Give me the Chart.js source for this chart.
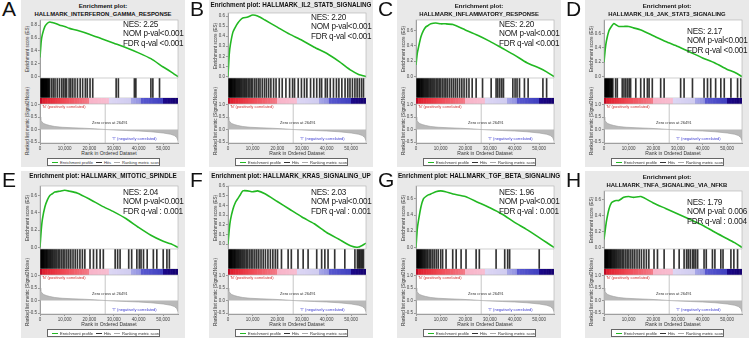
<!DOCTYPE html>
<html>
<head>
<meta charset="utf-8">
<script src="https://cdn.jsdelivr.net/npm/chart.js@4.4.1/dist/chart.umd.min.js"></script>
<style>
  body { margin: 0; background: #fff; font-family: "Liberation Sans", Arial, sans-serif; }
  #fig { position: relative; width: 752px; height: 342px; overflow: hidden; }
  .panel { position: absolute; width: 188px; height: 171px; }
  .box { position: absolute; left: 21px; top: 0; width: 164px; height: 167px; background: #e9e9e9; }
  .letter { position: absolute; left: 2px; top: -3px; font-size: 21px; color: #111; }
  .ttl { position: absolute; left: 21px; width: 164px; text-align: center; font-weight: bold; font-size: 6.1px; color: #111; white-space: nowrap; }
  .stats { position: absolute; left: 123px; font-size: 8.2px; letter-spacing: -0.25px; line-height: 9.4px; color: #222; white-space: nowrap; }
  .ytl { position: absolute; left: 27px; width: 0; height: 0; }
  .ytl span { position: absolute; transform: translate(-50%, -50%) rotate(-90deg); font-size: 4.6px; color: #333; white-space: nowrap; }
  .small { position: absolute; font-size: 4px; white-space: nowrap; }
  .xt { position: absolute; left: 40px; width: 138px; text-align: center; font-size: 5px; color: #333; }
  .leg { position: absolute; left: 47px; width: 113px; height: 7.5px; top: 158px; background: #fff; border: 0.6px solid #666; overflow: hidden;
         font-size: 4.1px; line-height: 7.5px; color: #333; white-space: nowrap; padding-left: 1px; box-sizing: border-box; }
  .leg i { display: inline-block; width: 6px; vertical-align: middle; border-top: 1px solid; margin: 0 2px 0 3px; }
  canvas { position: absolute; }
</style>
</head>
<body>
<div id="fig"></div>
<script>
// ---- data ----
const letters = ['A', 'B', 'C', 'D', 'E', 'F', 'G', 'H'];
const geneSets = [
  'HALLMARK_INTERFERON_GAMMA_RESPONSE', 'HALLMARK_IL2_STAT5_SIGNALING',
  'HALLMARK_INFLAMMATORY_RESPONSE', 'HALLMARK_IL6_JAK_STAT3_SIGNALING',
  'HALLMARK_MITOTIC_SPINDLE', 'HALLMARK_KRAS_SIGNALING_UP',
  'HALLMARK_TGF_BETA_SIGNALING', 'HALLMARK_TNFA_SIGNALING_VIA_NFKB'
];
const oneLineTitle = [false, true, false, false, true, true, true, false];
const nesText = ['NES: 2.25', 'NES: 2.20', 'NES: 2.20', 'NES: 2.17', 'NES: 2.04', 'NES: 2.03', 'NES: 1.96', 'NES: 1.79'];
const nomText = ['NOM p-val<0.001', 'NOM p-val<0.001', 'NOM p-val<0.001', 'NOM p-val<0.001',
                 'NOM p-val<0.001', 'NOM p-val<0.001', 'NOM p-val<0.001', 'NOM p-val: 0.006'];
const fdrText = ['FDR q-val <0.001', 'FDR q-val <0.001', 'FDR q-val <0.001', 'FDR q-val <0.001',
                 'FDR q-val : 0.001', 'FDR q-val : 0.001', 'FDR q-val : 0.001', 'FDR q-val : 0.004'];

const datasetSize = 56000;
const zeroCross = 26491;
const rankTicks = [0, 10000, 20000, 30000, 40000, 50000];
const metricTicks = [1.0, 0.5, 0.0, -0.5];

// running enrichment score, sampled at these ranks
const esRanks = [0, 500, 1000, 2000, 3000, 4000, 5000, 6000, 8000, 10000, 12000, 15000, 20000, 25000, 30000, 35000, 40000, 45000, 50000, 53000, 56000];
const esA = [0.30, 0.55, 0.66, 0.78, 0.83, 0.85, 0.84, 0.83, 0.80, 0.78, 0.75, 0.72, 0.66, 0.59, 0.52, 0.45, 0.37, 0.28, 0.15, 0.08, 0.0];
const esB = [0.00, 0.22, 0.32, 0.44, 0.49, 0.53, 0.56, 0.58, 0.59, 0.61, 0.60, 0.56, 0.49, 0.42, 0.36, 0.29, 0.23, 0.15, 0.06, 0.02, 0.0];
const esC = [0.15, 0.30, 0.38, 0.52, 0.60, 0.65, 0.67, 0.69, 0.70, 0.69, 0.69, 0.68, 0.61, 0.54, 0.46, 0.37, 0.28, 0.18, 0.11, 0.06, 0.0];
const esD = [0.20, 0.38, 0.50, 0.64, 0.70, 0.74, 0.72, 0.70, 0.70, 0.70, 0.68, 0.65, 0.57, 0.49, 0.42, 0.34, 0.26, 0.19, 0.10, 0.06, 0.0];
const esE = [0.00, 0.20, 0.33, 0.47, 0.55, 0.60, 0.62, 0.64, 0.65, 0.66, 0.65, 0.63, 0.56, 0.48, 0.41, 0.33, 0.23, 0.14, 0.07, 0.04, 0.0];
const esF = [0.00, 0.15, 0.25, 0.36, 0.43, 0.47, 0.51, 0.55, 0.55, 0.54, 0.55, 0.52, 0.44, 0.36, 0.28, 0.21, 0.12, 0.05, -0.02, -0.03, 0.01];
const esG = [0.00, 0.22, 0.33, 0.50, 0.60, 0.63, 0.65, 0.66, 0.69, 0.70, 0.69, 0.66, 0.63, 0.56, 0.49, 0.41, 0.31, 0.22, 0.12, 0.06, 0.0];
const esH = [0.10, 0.22, 0.33, 0.48, 0.56, 0.58, 0.59, 0.59, 0.63, 0.64, 0.63, 0.64, 0.56, 0.49, 0.42, 0.35, 0.28, 0.19, 0.11, 0.06, 0.0];
const esMax = [0.88, 0.63, 0.74, 0.79, 0.71, 0.60, 0.76, 0.71];
const esMin = [-0.02, -0.015, -0.02, -0.02, -0.02, -0.05, -0.02, -0.02];

// positions of the gene set members in the ranked list
const hitsA = [0, 100, 200, 300, 400, 500, 600, 700, 800, 900, 1000, 1150, 1300, 1450, 1600, 1800, 2000, 2200, 2400, 2600, 2800, 3000, 3300, 3600, 3900,
  4700, 5400, 6100, 7000, 7900, 8800, 9500, 10200, 10800, 11800, 12500, 13300, 14200, 15200, 16300, 17300, 18400, 19200, 20300, 21400,
  30900, 31800, 38300, 38900, 45000, 45800, 48500];
const hitsB = [0, 150, 300, 450, 600, 800, 1000, 1200, 1400, 1600, 1900, 2200, 2500, 2800, 3100, 3500, 3900, 4300, 4700, 5100, 5600, 6100, 6600,
  7100, 7600, 8200, 8800, 9400, 10000, 10800, 11500, 12300, 13000, 13900, 14800, 15600, 16500, 17400, 18500, 19500, 20800, 22000, 23500,
  25000, 26200, 27000, 28500, 29800, 31000, 32000, 33500, 34800, 36000, 37200, 38000, 39500, 40300, 41500, 42800, 44000, 45000, 46200,
  47500, 48600, 49500, 50500, 51500, 52400, 53300, 54200, 55000];
const hitsC = [0, 120, 250, 400, 550, 700, 900, 1100, 1300, 1500, 1800, 2100, 2400, 2700, 3000, 3400, 3800, 4200, 4600, 5000, 5500, 6000, 6500,
  7000, 7600, 8200, 8800, 9400, 10000, 10700, 11400, 12100, 12800, 13600, 14400, 15200, 16000, 16800, 17700, 18600, 19500, 20500, 21500,
  22800, 24400, 27000, 30500, 32500, 33200, 34000, 34800, 35500, 39300, 40200, 41000, 42000, 44000, 45500, 51500, 53000];
const hitsD = [0, 100, 200, 300, 400, 550, 700, 850, 1000, 1200, 1400, 1600, 1800, 2000, 2300, 2600, 2900, 3200, 3600, 4700, 5400,
  7400, 8100, 8800, 9500, 10200, 10800, 12900, 14900, 16300, 17600, 18300, 19600, 23000, 24400, 31100, 32500, 35900, 40600, 42000,
  43300, 45300, 47400, 48800, 51500, 54200, 55500];
const hitsE = [0, 150, 300, 450, 600, 800, 1000, 1200, 1400, 1600, 1900, 2200, 2500, 2800, 3100, 3500, 3900, 4300, 4700, 5200, 5700, 6200,
  6800, 7400, 8000, 8700, 9400, 10100, 10900, 11700, 12500, 13400, 14300, 15200, 16200, 17200, 18200, 20300, 21700, 23000, 24400, 25700,
  30500, 31500, 32500, 36000, 37200, 39300, 40300, 41000, 42000, 43500, 46000, 47400, 50000, 51500, 52500];
const hitsF = [0, 150, 300, 450, 600, 800, 1000, 1200, 1400, 1600, 1900, 2200, 2500, 2800, 3100, 3500, 3900, 4300, 4700, 5200, 5700, 6200,
  6800, 7400, 8000, 8700, 9400, 10100, 10900, 11700, 12500, 13400, 14300, 15200, 16200, 17200, 18200, 19200, 20100, 21700, 24400, 25700,
  28400, 30500, 32500, 36000, 38000, 39300, 40600, 43300, 47400, 51500, 52500, 53000, 53500, 54000, 54500, 55000];
const hitsG = [0, 100, 200, 300, 450, 600, 800, 1000, 1200, 1400, 1700, 2000, 2300, 2600, 3000, 3400, 3800, 4300, 4800, 5400, 6000, 6700,
  7400, 8200, 9000, 10000, 10800, 12200, 14900, 16300, 18300, 20300, 24400, 25700, 32500, 36000, 37200, 38000, 50000];
const hitsH = [0, 150, 300, 450, 600, 800, 1000, 1200, 1400, 1600, 1900, 2200, 2500, 2800, 3100, 3500, 3900, 4300, 4700, 5200, 5700, 6200,
  6800, 7400, 8000, 8700, 9400, 10100, 10900, 11700, 12500, 13400, 14300, 15200, 16200, 17200, 18200, 20300, 21700, 24400, 28400, 30500,
  32500, 33500, 34200, 35000, 35900, 36500, 37200, 38000, 40600, 41500, 44000, 45000, 47400, 48300, 51500, 52700, 54200];

// ranked list metric (same ranked list behind every panel)
const metricRanks = [0, 300, 800, 1500, 2500, 4000, 6000, 9000, 13000, 18000, 22000, 26491, 30000, 35000, 40000, 45000, 50000, 53000, 54500, 55500, 56000];
const metricValues = [0.50, 0.38, 0.30, 0.24, 0.20, 0.16, 0.12, 0.09, 0.07, 0.05, 0.03, 0.0, -0.02, -0.04, -0.06, -0.09, -0.14, -0.19, -0.24, -0.32, -0.45];

const esScores = [esA, esB, esC, esD, esE, esF, esG, esH];
const hitLists = [hitsA, hitsB, hitsC, hitsD, hitsE, hitsF, hitsG, hitsH];

// ---- layout / style ----
const GREEN = '#22b822';
const tickFont = { family: 'Liberation Sans', size: 4.5 };
const esTop = [20, 13, 20, 20, 15, 15, 15, 20];
const statsTop = [20, 13, 20, 27, 17, 17, 17, 27];

// heat bar colours along the ranked list
const heatStops = [
  [0, [168, 0, 32]], [1500, [224, 32, 48]], [10000, [240, 74, 85]], [19800, [244, 122, 136]],
  [20000, [248, 180, 200]], [28000, [248, 188, 208]], [28200, [220, 214, 244]], [37000, [208, 204, 240]],
  [37200, [168, 168, 232]], [41000, [144, 144, 224]], [41200, [88, 88, 208]], [49800, [64, 64, 192]],
  [50000, [28, 10, 140]], [56000, [20, 0, 110]]
];
function heatColor(r) {
  for (let k = 1; k < heatStops.length; k++) {
    const [r1, c1] = heatStops[k];
    if (r <= r1) {
      const [r0, c0] = heatStops[k - 1];
      const t = (r - r0) / (r1 - r0 || 1);
      const c = c0.map((v, j) => Math.round(v + (c1[j] - v) * t));
      return `rgb(${c[0]},${c[1]},${c[2]})`;
    }
  }
  return 'rgb(20,0,110)';
}

const plotBg = {
  id: 'plotBg',
  beforeDraw(chart) {
    const { ctx, chartArea: a } = chart;
    ctx.save();
    ctx.fillStyle = '#fff';
    ctx.fillRect(a.left, a.top, a.width, a.height);
    ctx.restore();
  },
  afterDraw(chart) {
    const { ctx, chartArea: a } = chart;
    ctx.save();
    ctx.strokeStyle = '#b0b0b0';
    ctx.lineWidth = 0.6;
    ctx.strokeRect(a.left, a.top, a.width, a.height);
    ctx.restore();
  }
};

const base = {
  responsive: false,
  animation: false,
  events: [],
  plugins: { legend: { display: false }, tooltip: { enabled: false } }
};

function fixedTicks(values) {
  return s => { s.ticks = values.map(v => ({ value: v })); };
}

function makeCanvas(parent, left, top, w, h) {
  const c = document.createElement('canvas');
  c.width = w; c.height = h;
  c.style.left = left + 'px'; c.style.top = top + 'px';
  c.style.width = w + 'px'; c.style.height = h + 'px';
  parent.appendChild(c);
  return c;
}

const fig = document.getElementById('fig');

letters.forEach((letter, i) => {
  const p = document.createElement('div');
  p.className = 'panel';
  p.style.left = (i % 4) * 188 + 'px';
  p.style.top = Math.floor(i / 4) * 171 + 'px';
  const title = oneLineTitle[i]
    ? `<div class="ttl" style="top:1px;font-size:6.3px">Enrichment plot: ${geneSets[i]}</div>`
    : `<div class="ttl" style="top:2px">Enrichment plot:</div><div class="ttl" style="top:11px;font-size:5.9px">${geneSets[i]}</div>`;
  p.innerHTML = `
    <div class="box"></div>
    <div class="letter">${letter}</div>
    ${title}
    <div class="ytl" style="top:${(esTop[i] + 78) / 2}px"><span>Enrichment score (ES)</span></div>
    <div class="ytl" style="top:121px"><span>Ranked list metric (Signal2Noise)</span></div>
    <div class="xt" style="top:150px">Rank in Ordered Dataset</div>
    <div class="leg"><i style="border-color:${GREEN}"></i>Enrichment profile<i style="border-color:#333"></i>Hits<i style="border-color:#aaa"></i>Ranking metric scores</div>`;
  fig.appendChild(p);

  // enrichment score curve
  const scores = esScores[i];
  const esTicks = [0, 0.1, 0.2, 0.3, 0.4, 0.5, 0.6, 0.7, 0.8].filter(v => v <= esMax[i]);
  new Chart(makeCanvas(p, 28, esTop[i] - 3, 152, 81 - esTop[i]), {
    type: 'line',
    data: { datasets: [{ data: esRanks.map((r, k) => ({ x: r, y: scores[k] })), borderColor: GREEN, borderWidth: 1.6, pointRadius: 0, tension: 0.2 }] },
    options: {
      ...base,
      layout: { padding: { right: 2, top: 3 } },
      scales: {
        x: { type: 'linear', min: 0, max: datasetSize, display: false },
        y: {
          min: esMin[i], max: esMax[i],
          afterBuildTicks: fixedTicks(esTicks),
          afterFit: s => { s.width = 12; s.paddingTop = 0; s.paddingBottom = 0; },
          ticks: { font: tickFont, color: '#444', padding: 1, callback: v => v.toFixed(1) },
          grid: { drawOnChartArea: false, tickLength: 2, color: '#999' },
          border: { color: '#999' }
        }
      }
    },
    plugins: [plotBg]
  });

  // hits
  new Chart(makeCanvas(p, 40, 78, 138, 20), {
    type: 'bar',
    data: { datasets: [{ data: hitLists[i].map(r => ({ x: r, y: 1 })), backgroundColor: 'rgba(0,0,0,0.8)', barThickness: 1 }] },
    options: {
      ...base,
      scales: {
        x: { type: 'linear', offset: false, min: 0, max: datasetSize, display: false },
        y: { min: 0, max: 1, display: false }
      }
    },
    plugins: [plotBg]
  });

  // heat bar
  const bins = [];
  for (let r = 500; r < datasetSize; r += 1000) bins.push(r);
  const binColors = bins.map(heatColor);
  new Chart(makeCanvas(p, 40, 98, 138, 6), {
    type: 'bar',
    data: { datasets: [{ data: bins.map(r => ({ x: r, y: 1 })), backgroundColor: binColors, borderColor: binColors, borderWidth: 0.6, barPercentage: 1, categoryPercentage: 1 }] },
    options: {
      ...base,
      scales: {
        x: { type: 'linear', offset: false, min: 0, max: datasetSize, display: false },
        y: { min: 0, max: 1, display: false }
      }
    }
  });

  // ranked list metric
  new Chart(makeCanvas(p, 28, 101, 152, 51), {
    type: 'line',
    data: {
      datasets: [
        { data: metricRanks.map((r, k) => ({ x: r, y: metricValues[k] })), borderColor: '#9a9a9a', borderWidth: 0.6,
          backgroundColor: '#b9b9b9', fill: 'origin', pointRadius: 0 },
        { data: [{ x: zeroCross, y: 1.02 }, { x: zeroCross, y: -0.54 }], borderColor: '#d0d0d0', borderWidth: 0.6, pointRadius: 0 }
      ]
    },
    options: {
      ...base,
      layout: { padding: { right: 2, top: 3 } },
      scales: {
        x: {
          type: 'linear', min: 0, max: datasetSize,
          afterBuildTicks: fixedTicks(rankTicks),
          afterFit: s => { s.height = 9; s.paddingLeft = 0; s.paddingRight = 0; },
          ticks: { font: tickFont, color: '#444', padding: 1, maxRotation: 0, callback: v => v.toLocaleString('en-US') },
          grid: { drawOnChartArea: false, tickLength: 2, color: '#999' },
          border: { color: '#999' }
        },
        y: {
          min: -0.54, max: 1.02,
          afterBuildTicks: fixedTicks(metricTicks),
          afterFit: s => { s.width = 12; s.paddingTop = 0; s.paddingBottom = 0; },
          ticks: { font: tickFont, color: '#444', padding: 1, callback: v => v.toFixed(1) },
          grid: { drawOnChartArea: false, tickLength: 2, color: '#999' },
          border: { color: '#999' }
        }
      }
    },
    plugins: [plotBg]
  });

  // annotations over the plots
  const notes = document.createElement('div');
  notes.innerHTML = `
    <div class="stats" style="top:${statsTop[i]}px">${nesText[i]}<br>${nomText[i]}<br>${fdrText[i]}</div>
    <div class="small" style="left:42px;top:104px;color:#d03030">'N' (positively correlated)</div>
    <div class="small" style="left:92px;top:120px;color:#333">Zero cross at 26491</div>
    <div class="small" style="left:112px;top:136px;color:#3a3ad0">'T' (negatively correlated)</div>`;
  p.appendChild(notes);
});
</script>
</body>
</html>
